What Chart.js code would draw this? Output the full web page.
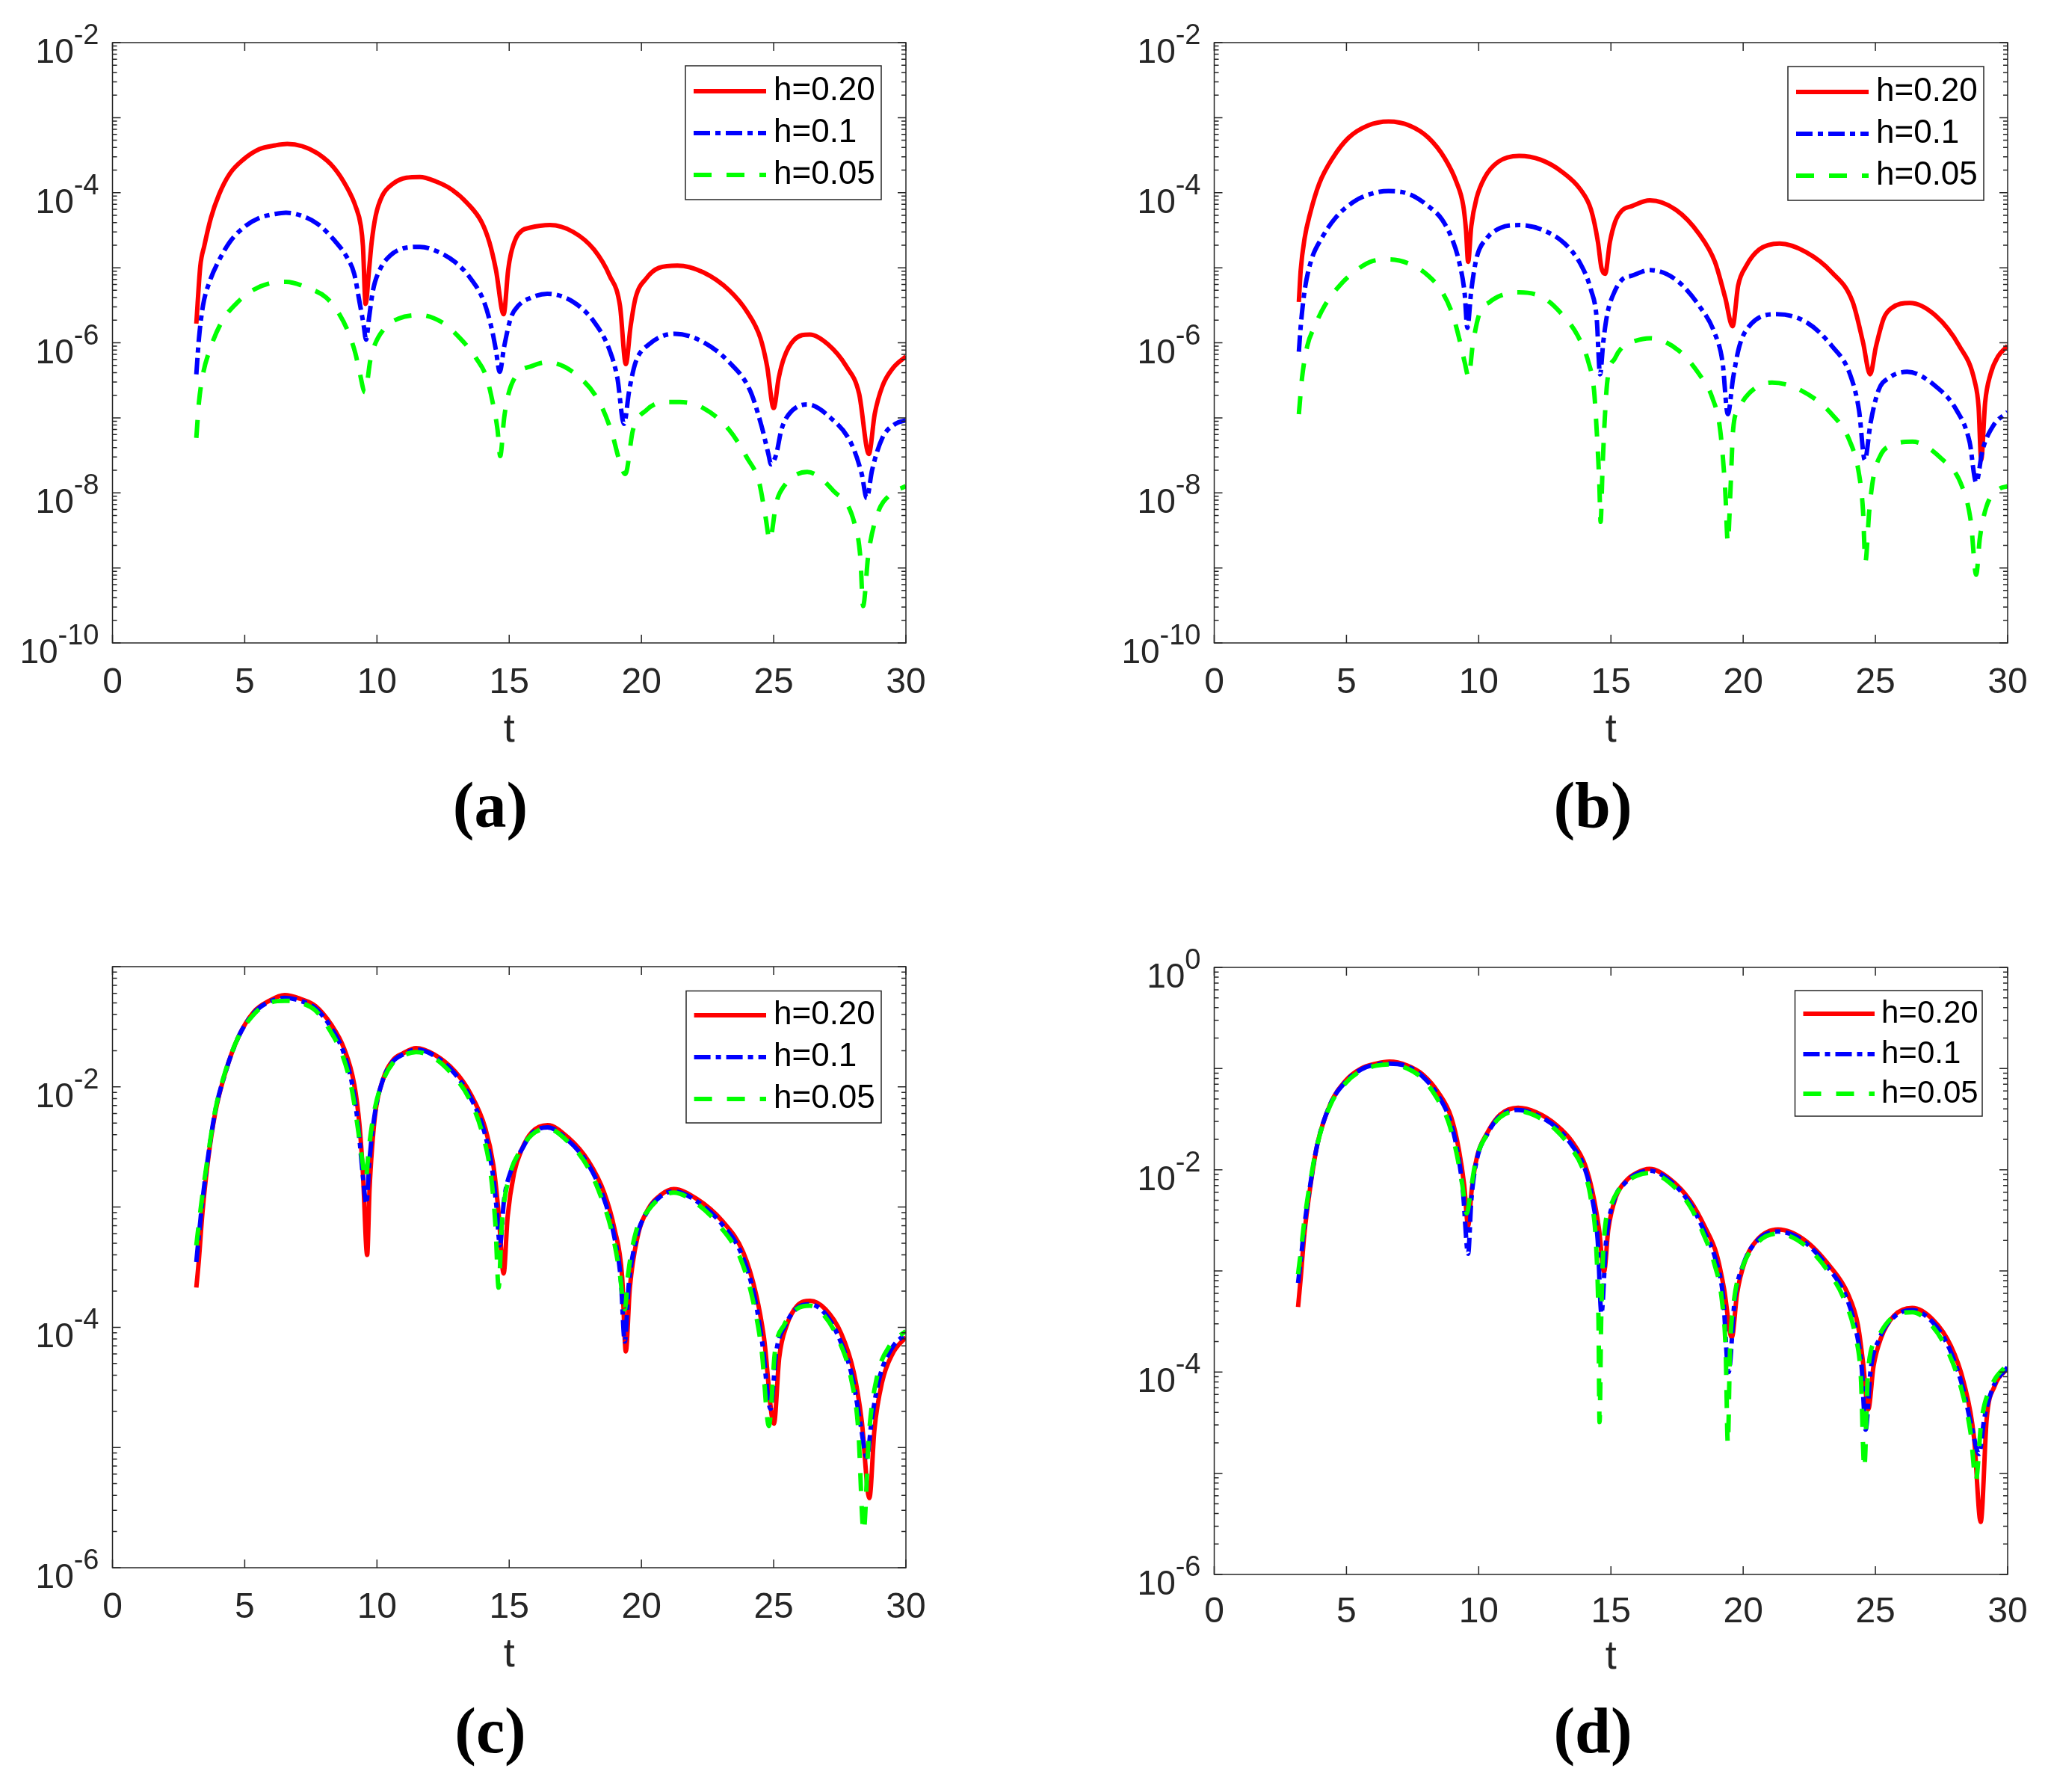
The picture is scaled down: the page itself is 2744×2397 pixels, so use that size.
<!DOCTYPE html>
<html><head><meta charset="utf-8">
<script src="https://cdn.jsdelivr.net/npm/chart.js@4.4.1/dist/chart.umd.min.js"></script>
<style>
html,body{margin:0;padding:0;background:#fff;}
#page{position:relative;width:2744px;height:2397px;background:#fff;overflow:hidden;}
canvas{position:absolute;}
.cap{position:absolute;font-family:'Liberation Serif','DejaVu Serif',serif;font-weight:bold;font-size:86px;color:#000;transform:translate(-50%,-50%);line-height:1;white-space:nowrap;}
</style></head><body>
<div id="page">
<canvas id="cA" width="1372" height="1020" style="left:0px;top:0px"></canvas>
<canvas id="cB" width="1372" height="1020" style="left:1372px;top:0px"></canvas>
<canvas id="cC" width="1372" height="1021" style="left:0px;top:1236px"></canvas>
<canvas id="cD" width="1372" height="1029" style="left:1372px;top:1237px"></canvas>
<div class="cap" style="left:656px;top:1077px">(a)</div>
<div class="cap" style="left:2131px;top:1077px">(b)</div>
<div class="cap" style="left:656px;top:2315px">(c)</div>
<div class="cap" style="left:2131px;top:2315px">(d)</div>
</div>
<script>
// ---------- data ----------
const SERIES_LABELS = ['h=0.20','h=0.1','h=0.05'];
const X_TICKS = [0,5,10,15,20,25,30];
const Y_TICKS_AB = [1e-2,1e-4,1e-6,1e-8,1e-10];
const Y_EXP_AB = ['-2','-4','-6','-8','-10'];
const Y_TICKS_C = [1e-2,1e-4,1e-6];
const Y_EXP_C = ['-2','-4','-6'];
const Y_TICKS_D = [1e0,1e-2,1e-4,1e-6];
const Y_EXP_D = ['0','-2','-4','-6'];

// (a)
const T_A_H020 = [3.17,3.32,3.47,3.72,4.03,4.43,4.94,5.55,6.15,6.61,7.17,7.77,8.38,8.88,9.19,9.39,9.47,9.57,9.70,9.80,9.95,10.2,10.61,11.11,11.62,12.23,12.83,13.44,13.95,14.25,14.5,14.79,14.96,15.06,15.26,15.5,15.76,16.54,17.42,18.21,18.80,19.19,19.41,19.59,19.78,20.18,20.67,21.36,22.34,23.32,24.0,24.5,24.75,25.0,25.19,25.39,25.78,26.37,27.06,27.74,28.23,28.6,28.82,29.11,29.51,30.0];
const V_A_H020 = [1.8e-6,1.05e-5,1.95e-5,4.6e-5,9.5e-5,1.78e-4,2.75e-4,3.8e-4,4.27e-4,4.47e-4,4.17e-4,3.31e-4,2.14e-4,1.15e-4,6.6e-5,3.63e-5,1.95e-5,3.3e-6,9.3e-6,2.19e-5,4.9e-5,9.1e-5,1.32e-4,1.58e-4,1.62e-4,1.41e-4,1.10e-4,7.1e-5,4.1e-5,2.19e-5,9.3e-6,2.4e-6,9.3e-6,1.51e-5,2.5e-5,3.16e-5,3.4e-5,3.7e-5,3.0e-5,1.74e-5,7.8e-6,3.1e-6,5.2e-7,1.66e-6,4.0e-6,7.2e-6,1.0e-5,1.07e-5,8.7e-6,5.0e-6,2.57e-6,1.15e-6,4.9e-7,1.35e-7,3.4e-7,6.3e-7,1.1e-6,1.29e-6,9.5e-7,4.9e-7,2.1e-7,3.3e-8,1.12e-7,2.63e-7,4.6e-7,6.6e-7];
const T_A_H010 = [3.17,3.27,3.42,3.67,4.03,4.43,4.94,5.55,6.15,6.56,7.17,7.77,8.38,8.88,9.14,9.34,9.49,9.59,9.70,9.85,10.1,10.5,11.01,11.62,12.33,12.94,13.54,14.05,14.35,14.5,14.64,14.81,15.06,15.36,15.76,16.44,17.42,18.21,18.80,19.09,19.34,19.54,19.78,20.28,21.26,22.34,23.32,24.1,24.54,24.8,24.9,25.1,25.29,25.58,26.27,27.15,27.94,28.33,28.52,28.72,29.11,29.6,30.0];
const V_A_H010 = [3.8e-7,1.15e-6,3.1e-6,6.5e-6,1.26e-5,2.19e-5,3.4e-5,4.6e-5,5.2e-5,5.4e-5,4.9e-5,3.8e-5,2.34e-5,1.35e-5,8.3e-6,3.5e-6,1.78e-6,1.1e-6,2.14e-6,5.0e-6,9.3e-6,1.45e-5,1.82e-5,1.9e-5,1.62e-5,1.2e-5,7.2e-6,3.5e-6,1.48e-6,7.9e-7,4.1e-7,8.9e-7,2.14e-6,3.16e-6,3.9e-6,4.5e-6,3.5e-6,1.9e-6,7.9e-7,3.4e-7,8.3e-8,2.34e-7,5.5e-7,9.5e-7,1.32e-6,1.02e-6,5.5e-7,2.34e-7,7.8e-8,3.3e-8,2.4e-8,3.3e-8,6.9e-8,1.12e-7,1.51e-7,1.0e-7,4.5e-8,1.78e-8,8.5e-9,2.0e-8,5.4e-8,8.3e-8,9.3e-8];
const T_A_H005 = [3.17,3.27,3.42,3.67,4.13,4.74,5.34,5.95,6.56,7.37,8.08,8.58,8.94,9.19,9.34,9.55,9.75,9.9,10.3,10.81,11.62,12.43,13.14,13.74,14.15,14.4,14.56,14.66,14.81,14.96,15.3,15.86,16.44,17.52,18.41,18.90,19.14,19.39,19.68,20.18,20.86,21.45,22.34,23.32,24.0,24.45,24.7,24.85,25.1,25.39,26.27,27.25,28.04,28.28,28.38,28.58,28.92,29.41,30.0];
const V_A_H005 = [5.4e-8,1.62e-7,3.8e-7,7.9e-7,1.9e-6,3.5e-6,5.1e-6,6.2e-6,6.5e-6,5.4e-6,4.0e-6,2.4e-6,1.32e-6,7.1e-7,4.1e-7,2.19e-7,5.9e-7,9.1e-7,1.58e-6,2.1e-6,2.34e-6,1.9e-6,1.15e-6,6.3e-7,3.4e-7,1.45e-7,6.9e-8,3.1e-8,1.0e-7,2.0e-7,3.8e-7,4.9e-7,5.5e-7,3.8e-7,1.62e-7,6.0e-8,2.9e-8,1.78e-8,6.9e-8,1.26e-7,1.62e-7,1.62e-7,1.35e-7,6.9e-8,2.9e-8,1.38e-8,4.6e-9,2.34e-9,7.4e-9,1.23e-8,1.9e-8,1.07e-8,4.1e-9,1.35e-9,3.1e-10,1.51e-9,5.2e-9,9.5e-9,1.23e-8];

// (b)
const T_B_H020 = [3.2,3.27,3.42,3.62,3.97,4.48,5.08,5.79,6.59,7.40,8.1,8.71,9.16,9.42,9.52,9.6,9.72,9.92,10.22,10.73,11.53,12.34,13.15,13.85,14.25,14.51,14.64,14.78,14.96,15.16,15.42,15.78,16.47,17.46,18.34,18.93,19.32,19.6,19.81,20.11,20.6,21.38,22.37,23.35,24.14,24.53,24.8,25.02,25.32,25.61,26.3,27.28,28.17,28.76,28.9,29.0,29.15,29.35,29.64,30.0];
const V_B_H020 = [3.5e-6,9.3e-6,2.5e-5,5.2e-5,1.32e-4,2.9e-4,5.4e-4,7.8e-4,8.9e-4,7.8e-4,5.4e-4,2.9e-4,1.38e-4,6.6e-5,3.16e-5,1.2e-5,3.6e-5,8.5e-5,1.58e-4,2.57e-4,3.1e-4,2.75e-4,1.9e-4,1.1e-4,5.9e-5,2.19e-5,1.0e-5,8.3e-6,2.19e-5,4.1e-5,5.8e-5,6.6e-5,7.9e-5,5.9e-5,2.8e-5,1.2e-5,4.0e-6,1.66e-6,5.8e-6,1.05e-5,1.74e-5,2.1e-5,1.62e-5,8.7e-6,3.5e-6,1.02e-6,3.8e-7,8.9e-7,2.14e-6,2.9e-6,3.4e-6,2.3e-6,9.1e-7,3.0e-7,1.41e-7,2.75e-8,1.62e-7,3.8e-7,6.6e-7,9.1e-7];
const T_B_H010 = [3.2,3.27,3.42,3.67,4.07,4.58,5.28,5.99,6.59,7.40,8.1,8.61,9.01,9.26,9.47,9.57,9.72,9.92,10.32,10.83,11.53,12.44,13.25,13.85,14.25,14.46,14.59,14.71,14.86,15.16,15.45,15.78,16.47,17.46,18.34,18.93,19.22,19.42,19.62,19.86,20.3,21.28,22.37,23.35,24.04,24.38,24.6,24.82,25.12,25.51,26.2,27.28,28.07,28.56,28.81,29.05,29.45,30.0];
const V_B_H010 = [7.6e-7,1.66e-6,5.0e-6,1.26e-5,2.5e-5,4.6e-5,7.6e-5,9.8e-5,1.05e-4,9.5e-5,6.6e-5,4.4e-5,2.34e-5,1.2e-5,4.5e-6,1.58e-6,5.0e-6,1.35e-5,2.5e-5,3.4e-5,3.7e-5,3.16e-5,2.1e-5,1.12e-5,5.0e-6,2.14e-6,3.8e-7,1.02e-6,2.4e-6,5.0e-6,7.1e-6,7.8e-6,9.3e-6,6.9e-6,3.1e-6,1.32e-6,5.5e-7,1.12e-7,3.4e-7,9.1e-7,1.78e-6,2.4e-6,1.9e-6,9.1e-7,3.8e-7,1.26e-7,2.75e-8,8.7e-8,2.34e-7,3.4e-7,4.1e-7,2.63e-7,1.26e-7,4.8e-8,1.38e-8,3.7e-8,7.8e-8,1.2e-7];
const T_B_H005 = [3.2,3.32,3.52,3.77,4.17,4.78,5.38,5.99,6.59,7.40,8.1,8.61,9.01,9.26,9.47,9.62,9.77,10.02,10.42,11.03,11.53,12.44,13.15,13.75,14.15,14.36,14.46,14.56,14.61,14.68,14.76,14.86,15.16,15.45,15.78,16.47,17.56,18.34,18.84,19.13,19.32,19.42,19.52,19.62,19.81,20.21,21.09,22.17,23.35,24.04,24.38,24.53,24.62,24.77,24.92,25.22,25.61,26.4,27.48,28.27,28.61,28.81,28.95,29.2,29.64,30.0];
const V_B_H005 = [1.12e-7,3.4e-7,9.1e-7,1.58e-6,3.1e-6,6.0e-6,9.3e-6,1.23e-5,1.29e-5,1.12e-5,7.8e-6,4.8e-6,2.4e-6,1.15e-6,5.5e-7,3.5e-7,9.1e-7,2.4e-6,3.5e-6,4.5e-6,4.7e-6,4.0e-6,2.4e-6,1.23e-6,5.5e-7,2.34e-7,6.9e-8,1.38e-8,4.1e-9,2.0e-8,8.7e-8,3.0e-7,6.3e-7,8.9e-7,1.02e-6,1.15e-6,7.9e-7,3.8e-7,1.82e-7,6.9e-8,1.1e-8,2.2e-9,1.1e-8,6.9e-8,1.26e-7,2.1e-7,2.95e-7,2.34e-7,1.12e-7,4.8e-8,1.78e-8,5.9e-9,1.2e-9,5.9e-9,1.58e-8,3.3e-8,4.3e-8,4.8e-8,2.9e-8,1.23e-8,4.1e-9,8.1e-10,2.5e-9,6.6e-9,1.1e-8,1.23e-8];

// (c)
const T_C_H020 = [3.17,3.26,3.40,3.59,3.88,4.27,4.76,5.34,5.93,6.51,7.1,7.68,8.27,8.75,9.14,9.34,9.47,9.63,9.72,9.92,10.21,10.6,10.99,11.48,12.16,12.94,13.52,14.1,14.4,14.6,14.79,14.94,15.18,15.47,15.86,16.45,17.22,18.0,18.59,18.98,19.27,19.41,19.56,19.85,20.24,20.73,21.22,22.09,23.07,23.85,24.33,24.63,25.01,25.21,25.5,25.89,26.38,26.96,27.55,28.03,28.33,28.62,28.81,29.1,29.49,30.0];
const V_C_H020 = [2.14e-4,3.5e-4,8.9e-4,2.24e-3,6.0e-3,1.32e-2,2.6e-2,4.2e-2,5.2e-2,5.8e-2,5.4e-2,4.7e-2,3.3e-2,2.1e-2,1.05e-2,4.8e-3,1.9e-3,4.0e-4,1.41e-3,5.6e-3,1.12e-2,1.66e-2,1.9e-2,2.1e-2,1.86e-2,1.35e-2,8.9e-3,4.5e-3,2.24e-3,8.9e-4,2.8e-4,8.3e-4,1.9e-3,3.0e-3,4.2e-3,4.8e-3,3.8e-3,2.4e-3,1.32e-3,6.6e-4,2.63e-4,6.3e-5,2.1e-4,5.6e-4,9.5e-4,1.26e-3,1.41e-3,1.17e-3,7.6e-4,4.2e-4,1.9e-4,8.3e-5,1.58e-5,5.6e-5,1.05e-4,1.51e-4,1.66e-4,1.41e-4,8.9e-5,4.2e-5,1.66e-5,3.8e-6,1.41e-5,3.5e-5,6.0e-5,8.3e-5];
const T_C_H010 = [3.17,3.26,3.40,3.59,3.88,4.27,4.76,5.34,5.93,6.51,7.1,7.68,8.27,8.75,9.1,9.3,9.45,9.6,9.72,9.92,10.21,10.6,10.99,11.48,12.16,12.94,13.52,14.05,14.35,14.52,14.65,14.8,15.1,15.47,15.86,16.45,17.22,18.0,18.55,18.95,19.22,19.37,19.52,19.82,20.24,20.73,21.22,22.09,23.07,23.8,24.28,24.58,24.88,25.1,25.45,25.89,26.38,26.96,27.5,27.98,28.28,28.52,28.72,29.0,29.45,30.0];
const V_C_H010 = [3.5e-4,5.6e-4,1.12e-3,2.4e-3,6.2e-3,1.32e-2,2.6e-2,4.1e-2,5.1e-2,5.5e-2,5.2e-2,4.5e-2,3.1e-2,1.9e-2,9.5e-3,4.5e-3,2.0e-3,1.07e-3,2.5e-3,6.0e-3,1.12e-2,1.62e-2,1.86e-2,2.04e-2,1.82e-2,1.29e-2,8.3e-3,4.3e-3,2.1e-3,1.0e-3,4.8e-4,1.12e-3,2.1e-3,3.0e-3,4.1e-3,4.6e-3,3.6e-3,2.24e-3,1.23e-3,6.0e-4,2.5e-4,7.6e-5,2.24e-4,5.6e-4,9.3e-4,1.23e-3,1.35e-3,1.12e-3,7.1e-4,4.0e-4,1.78e-4,7.1e-5,2.1e-5,6.3e-5,1.05e-4,1.45e-4,1.55e-4,1.29e-4,7.9e-5,3.8e-5,1.58e-5,8.3e-6,1.78e-5,3.8e-5,6.6e-5,8.9e-5];
const T_C_H005 = [3.17,3.26,3.40,3.59,3.88,4.27,4.76,5.34,5.93,6.51,7.1,7.68,8.2,8.7,9.05,9.28,9.45,9.57,9.7,9.9,10.21,10.6,10.99,11.48,12.16,12.9,13.5,14.0,14.3,14.48,14.6,14.72,15.0,15.4,15.86,16.45,17.22,18.0,18.5,18.9,19.18,19.37,19.5,19.8,20.24,20.73,21.22,22.09,23.0,23.75,24.22,24.55,24.82,25.05,25.4,25.85,26.38,26.9,27.45,27.92,28.2,28.4,28.6,28.9,29.4,30.0];
const V_C_H005 = [4.8e-4,7.1e-4,1.26e-3,2.5e-3,6.3e-3,1.35e-2,2.6e-2,4.0e-2,5.0e-2,5.2e-2,5.0e-2,4.3e-2,3.0e-2,1.82e-2,9.5e-3,4.5e-3,2.4e-3,1.7e-3,3.16e-3,6.3e-3,1.1e-2,1.58e-2,1.82e-2,1.95e-2,1.74e-2,1.23e-2,7.9e-3,4.0e-3,1.9e-3,7.1e-4,2.14e-4,7.1e-4,1.78e-3,2.9e-3,4.0e-3,4.5e-3,3.5e-3,2.1e-3,1.17e-3,6.0e-4,2.8e-4,1.41e-4,2.8e-4,6.3e-4,9.3e-4,1.2e-3,1.32e-3,1.07e-3,6.8e-4,3.7e-4,1.66e-4,6.3e-5,1.51e-5,6.3e-5,1.05e-4,1.41e-4,1.51e-4,1.26e-4,7.9e-5,3.8e-5,1.41e-5,2.0e-6,1.26e-5,3.8e-5,7.1e-5,9.3e-5];

// (d)
const T_D_H020 = [3.17,3.27,3.41,3.6,3.89,4.38,4.97,5.55,6.13,6.62,7.3,7.89,8.47,8.96,9.25,9.45,9.6,9.74,9.93,10.32,10.81,11.49,12.17,12.95,13.53,14.02,14.31,14.55,14.74,14.9,15.19,15.58,15.97,16.46,17.23,18.01,18.6,18.99,19.28,19.57,19.77,20.06,20.54,21.32,22.3,23.27,23.95,24.34,24.53,24.73,24.93,25.22,25.7,26.39,27.17,27.85,28.34,28.73,28.98,29.21,29.5,30.0];
const V_D_H020 = [4.4e-4,8.5e-4,2.34e-3,5.9e-3,1.74e-2,4.4e-2,7.6e-2,0.1,0.112,0.117,0.107,8.7e-2,5.8e-2,3.3e-2,1.58e-2,7.1e-3,2.8e-3,6.5e-3,1.32e-2,2.3e-2,3.5e-2,4.1e-2,3.7e-2,2.75e-2,1.9e-2,1.12e-2,5.9e-3,2.57e-3,9.8e-4,2.57e-3,5.4e-3,7.8e-3,9.3e-3,1.02e-2,8.1e-3,4.9e-3,2.57e-3,1.48e-3,6.6e-4,2.2e-4,6.0e-4,1.23e-3,2.04e-3,2.57e-3,2.04e-3,1.12e-3,6.0e-4,2.9e-4,1.26e-4,4.3e-5,1.15e-4,2.2e-4,3.6e-4,4.3e-4,3.3e-4,1.82e-4,7.9e-5,2.24e-5,3.3e-6,3.5e-5,7.2e-5,1.1e-4];
const T_D_H010 = [3.17,3.27,3.41,3.6,3.89,4.38,4.97,5.55,6.13,6.62,7.3,7.89,8.47,8.9,9.2,9.4,9.6,9.72,9.93,10.32,10.81,11.49,12.17,12.95,13.5,14.0,14.28,14.5,14.64,14.82,15.12,15.58,15.97,16.46,17.23,18.0,18.55,18.95,19.24,19.45,19.68,20.0,20.54,21.32,22.3,23.25,23.9,24.28,24.48,24.63,24.82,25.15,25.7,26.39,27.17,27.8,28.3,28.65,28.92,29.12,29.45,30.0];
const V_D_H010 = [7.6e-4,1.26e-3,2.8e-3,6.3e-3,1.74e-2,4.4e-2,7.4e-2,9.8e-2,0.11,0.112,0.105,8.3e-2,5.4e-2,3.16e-2,1.51e-2,6.3e-3,1.48e-3,5.0e-3,1.26e-2,2.24e-2,3.4e-2,3.9e-2,3.5e-2,2.6e-2,1.78e-2,1.05e-2,5.4e-3,2.0e-3,3.8e-4,2.0e-3,5.0e-3,7.6e-3,9.1e-3,9.8e-3,7.8e-3,4.6e-3,2.4e-3,1.32e-3,5.6e-4,1.0e-4,5.2e-4,1.15e-3,2.0e-3,2.45e-3,1.95e-3,1.05e-3,5.5e-4,2.5e-4,1.12e-4,2.7e-5,1.05e-4,2.14e-4,3.5e-4,4.1e-4,3.1e-4,1.7e-4,7.1e-5,2.8e-5,1.55e-5,3.5e-5,7.1e-5,1.12e-4];
const T_D_H005 = [3.17,3.27,3.41,3.6,3.89,4.38,4.97,5.55,6.13,6.62,7.3,7.89,8.4,8.85,9.15,9.38,9.55,9.7,9.9,10.3,10.81,11.49,12.17,12.9,13.45,13.95,14.25,14.45,14.53,14.57,14.63,14.72,15.05,15.5,15.97,16.46,17.23,18.0,18.5,18.9,19.2,19.34,19.42,19.5,19.65,19.98,20.5,21.32,22.3,23.2,23.85,24.25,24.45,24.58,24.72,25.05,25.6,26.39,27.1,27.75,28.25,28.6,28.8,29.0,29.4,30.0];
const V_D_H005 = [9.3e-4,1.51e-3,3.16e-3,6.8e-3,1.74e-2,4.3e-2,7.2e-2,9.5e-2,0.107,0.11,0.1,7.9e-2,5.2e-2,3.0e-2,1.51e-2,7.1e-3,3.7e-3,6.3e-3,1.26e-2,2.2e-2,3.3e-2,3.8e-2,3.4e-2,2.5e-2,1.7e-2,1.0e-2,5.0e-3,1.58e-3,3.16e-4,3.2e-5,3.16e-4,1.78e-3,4.8e-3,7.2e-3,8.7e-3,9.3e-3,7.4e-3,4.3e-3,2.3e-3,1.2e-3,5.0e-4,1.58e-4,1.95e-5,1.58e-4,5.0e-4,1.1e-3,1.86e-3,2.34e-3,1.82e-3,1.0e-3,5.0e-4,2.24e-4,8.9e-5,1.12e-5,1.0e-4,2.1e-4,3.4e-4,3.9e-4,2.95e-4,1.58e-4,6.8e-5,2.5e-5,8.5e-6,3.16e-5,7.4e-5,1.2e-4];

// ---------- styles ----------
const FONT = "'Liberation Sans', Arial, Helvetica, sans-serif";
const INK = '#262626';
const STYLES = [
  {color:'#ff0000', dash:[]},
  {color:'#0000ff', dash:[22,7,7,7]},
  {color:'#00ff00', dash:[24,20]}
];

const matlabAxes = {
  id: 'matlabAxes',
  afterDraw(chart, args, o) {
    const ctx = chart.ctx, ca = chart.chartArea;
    const xs = chart.scales.x, ys = chart.scales.y;
    ctx.save();
    ctx.strokeStyle = INK; ctx.lineWidth = 1.5; ctx.setLineDash([]); ctx.lineCap = 'butt';
    ctx.beginPath();
    const MAJ = 11, MIN = 6;
    X_TICKS.forEach(t => {
      const px = xs.getPixelForValue(t);
      ctx.moveTo(px, ca.bottom); ctx.lineTo(px, ca.bottom - MAJ);
      ctx.moveTo(px, ca.top); ctx.lineTo(px, ca.top + MAJ);
    });
    for (let e = o.eMin; e <= o.eMax; e++) {
      const base = Number('1e' + e);
      const py = ys.getPixelForValue(base);
      ctx.moveTo(ca.left, py); ctx.lineTo(ca.left + MAJ, py);
      ctx.moveTo(ca.right, py); ctx.lineTo(ca.right - MAJ, py);
      if (e < o.eMax) {
        for (let m = 2; m <= 9; m++) {
          const pm = ys.getPixelForValue(m * base);
          ctx.moveTo(ca.left, pm); ctx.lineTo(ca.left + MIN, pm);
          ctx.moveTo(ca.right, pm); ctx.lineTo(ca.right - MIN, pm);
        }
      }
    }
    ctx.stroke();
    ctx.strokeRect(ca.left, ca.top, ca.right - ca.left, ca.bottom - ca.top);

    // y tick labels 10^n
    ctx.fillStyle = INK; ctx.textAlign = 'left'; ctx.textBaseline = 'alphabetic';
    o.yTicks.forEach((v, i) => {
      const py = ys.getPixelForValue(v);
      const ex = o.yExp[i];
      ctx.font = o.supSize + 'px ' + FONT;
      const sw = ctx.measureText(ex).width;
      ctx.font = o.baseSize + 'px ' + FONT;
      const bw = ctx.measureText('10').width;
      const right = ca.left - o.labelGap;
      ctx.fillText('10', right - sw - bw, py + o.baseDy);
      ctx.font = o.supSize + 'px ' + FONT;
      ctx.fillText(ex, right - sw, py + o.supDy);
    });

    // legend
    const L = o.legend;
    const bx = ca.right - L.dxRight, by = ca.top + L.dyTop;
    ctx.fillStyle = '#ffffff'; ctx.fillRect(bx, by, L.w, L.h);
    ctx.strokeStyle = INK; ctx.lineWidth = 1.5; ctx.strokeRect(bx, by, L.w, L.h);
    chart.data.datasets.forEach((ds, i) => {
      const ry = by + L.rows[i];
      ctx.strokeStyle = ds.borderColor; ctx.lineWidth = ds.borderWidth;
      ctx.setLineDash(ds.borderDash || []); ctx.lineCap = 'butt';
      ctx.beginPath(); ctx.moveTo(bx + L.x1, ry); ctx.lineTo(bx + L.x2, ry); ctx.stroke();
      ctx.setLineDash([]);
      ctx.fillStyle = '#000000'; ctx.font = L.font + 'px ' + FONT; ctx.textBaseline = 'middle';
      ctx.fillText(ds.label, bx + L.tx, ry);
    });
    ctx.restore();
  }
};

function makePanel(id, P) {
  const datasets = P.series.map((s, i) => ({
    label: SERIES_LABELS[i],
    data: s.t.map((t, k) => ({x: t, y: s.v[k]})),
    borderColor: STYLES[i].color,
    borderWidth: 6,
    borderDash: STYLES[i].dash,
    borderCapStyle: 'butt',
    borderJoinStyle: 'round',
    pointRadius: 0, pointHoverRadius: 0, fill: false,
    cubicInterpolationMode: 'monotone',
    order: 2 - i
  }));
  return new Chart(document.getElementById(id), {
    type: 'line',
    data: {datasets},
    options: {
      responsive: false, animation: false, devicePixelRatio: 1, events: [],
      layout: {padding: P.pad},
      plugins: {
        legend: {display: false}, tooltip: {enabled: false},
        matlabAxes: {eMin: P.eMin, eMax: P.eMax, yTicks: P.yTicks, yExp: P.yExp,
          baseSize: 46, supSize: 38, labelGap: 18, baseDy: 27, supDy: 2, legend: P.legend}
      },
      scales: {
        x: {
          type: 'linear', min: 0, max: 30, position: 'bottom',
          ticks: {stepSize: 5, font: {family: FONT, size: 48}, color: INK, padding: P.tickPad, maxRotation: 0, autoSkip: false},
          grid: {display: false, drawTicks: false}, border: {display: false},
          title: {display: true, text: 't', font: {family: FONT, size: 54}, color: INK, padding: {top: 0, bottom: P.titlePad}},
          afterFit: sc => { sc.height = P.xHeight; }
        },
        y: {
          type: 'logarithmic', min: P.yMin, max: P.yMax, position: 'left',
          ticks: {display: false}, grid: {display: false, drawTicks: false}, border: {display: false},
          afterFit: sc => { sc.width = P.yWidth; }
        }
      }
    },
    plugins: [matlabAxes]
  });
}

makePanel('cA', {
  pad: {left: 0, top: 57, right: 160, bottom: 0}, yWidth: 150.5, xHeight: 160, tickPad: 25, titlePad: 10,
  yMin: 1e-10, yMax: 1e-2, eMin: -10, eMax: -2, yTicks: Y_TICKS_AB, yExp: Y_EXP_AB,
  legend: {dxRight: 295, dyTop: 31, w: 262, h: 179, rows: [34, 90, 146], x1: 11, x2: 108, tx: 118, font: 44},
  series: [{t: T_A_H020, v: V_A_H020}, {t: T_A_H010, v: V_A_H010}, {t: T_A_H005, v: V_A_H005}]
});
makePanel('cB', {
  pad: {left: 0, top: 57, right: 58, bottom: 0}, yWidth: 252.5, xHeight: 160, tickPad: 25, titlePad: 10,
  yMin: 1e-10, yMax: 1e-2, eMin: -10, eMax: -2, yTicks: Y_TICKS_AB, yExp: Y_EXP_AB,
  legend: {dxRight: 294, dyTop: 32, w: 262, h: 179, rows: [34, 90, 146], x1: 11, x2: 108, tx: 118, font: 44},
  series: [{t: T_B_H020, v: V_B_H020}, {t: T_B_H010, v: V_B_H010}, {t: T_B_H005, v: V_B_H005}]
});
makePanel('cC', {
  pad: {left: 0, top: 57, right: 160, bottom: 0}, yWidth: 150.5, xHeight: 160, tickPad: 25, titlePad: 10,
  yMin: 1e-6, yMax: 1e-1, eMin: -6, eMax: -1, yTicks: Y_TICKS_C, yExp: Y_EXP_C,
  legend: {dxRight: 294, dyTop: 32.5, w: 261, h: 176.5, rows: [32.5, 88.5, 144.5], x1: 10.6, x2: 107, tx: 117, font: 44},
  series: [{t: T_C_H020, v: V_C_H020}, {t: T_C_H010, v: V_C_H010}, {t: T_C_H005, v: V_C_H005}]
});
makePanel('cD', {
  pad: {left: 0, top: 57, right: 58, bottom: 0}, yWidth: 252.5, xHeight: 160, tickPad: 22, titlePad: 16,
  yMin: 1e-6, yMax: 1, eMin: -6, eMax: 0, yTicks: Y_TICKS_D, yExp: Y_EXP_D,
  legend: {dxRight: 284.5, dyTop: 31, w: 250.5, h: 168, rows: [31, 85, 138], x1: 11, x2: 106.5, tx: 115.5, font: 42},
  series: [{t: T_D_H020, v: V_D_H020}, {t: T_D_H010, v: V_D_H010}, {t: T_D_H005, v: V_D_H005}]
});
</script>
</body></html>
